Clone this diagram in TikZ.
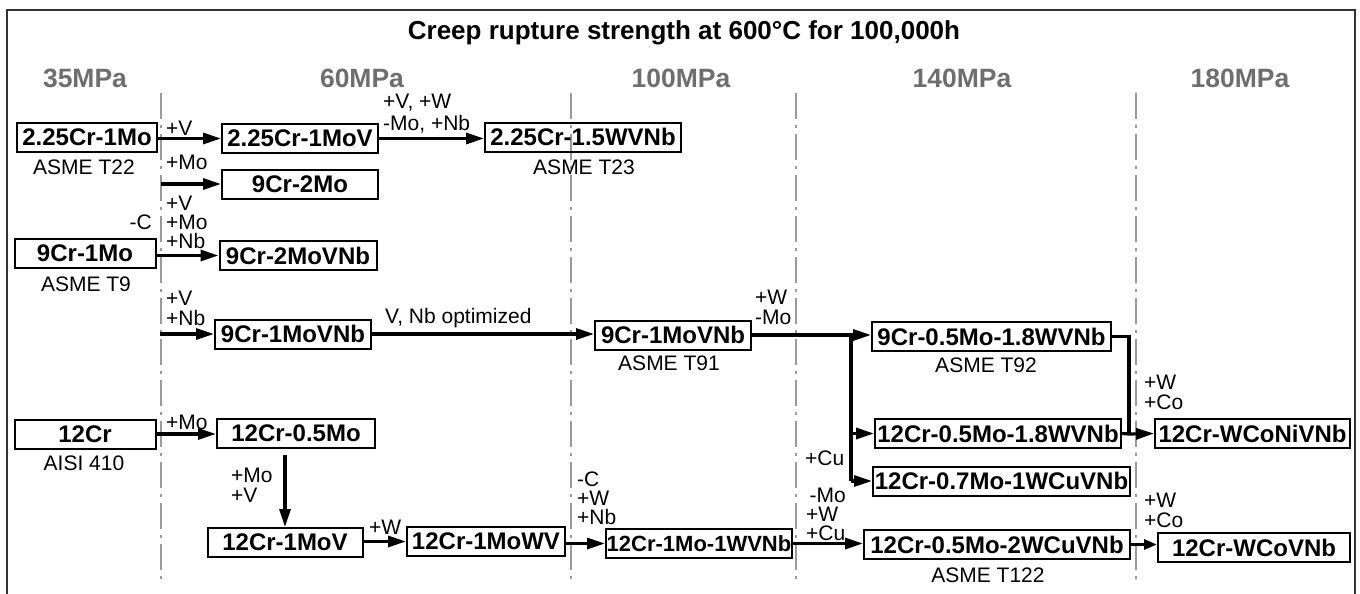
\documentclass[tikz,border=0pt]{standalone}
\usepackage{fontspec}
\setmainfont{Liberation Sans}
\usetikzlibrary{arrows.meta,calc}
\definecolor{hdrgray}{HTML}{6E6E6E}
\definecolor{gridgray}{HTML}{9A9A9A}
\definecolor{framegray}{HTML}{333333}
\begin{document}
\begin{tikzpicture}[x=1pt,y=-1pt,
  box/.style={draw=black, line width=2pt, inner sep=0pt, minimum height=29pt, font=\bfseries\fontsize{24}{24}\selectfont},
  lbl/.style={inner sep=0pt, anchor=west, align=left, font=\fontsize{21}{19}\selectfont},
  std/.style={inner sep=0pt, font=\fontsize{21}{21}\selectfont},
  hdr/.style={inner sep=0pt, text=hdrgray, font=\bfseries\fontsize{26.5}{26.5}\selectfont},
  arr/.style={line width=3.2pt, -{Triangle[length=18pt,width=11pt]}},
  conn/.style={line width=3.2pt},
  gridline/.style={draw=gridgray, line width=1.5pt, dash pattern=on 26pt off 6pt on 3pt off 6pt}]
\useasboundingbox (0,0) rectangle (1360,594);
% frame
\draw[framegray, line width=1.6pt] (7,600) -- (7,10) -- (1355,10) -- (1355,600);
% title and headers
\node[inner sep=0pt, font=\bfseries\fontsize{26}{26}\selectfont] (title) at (684,33) {Creep rupture strength at 600°C for 100,000h};
\node[hdr] (h35) at (85,78) {35MPa};
\node[hdr] (h60) at (362,78) {60MPa};
\node[hdr] (h100) at (681,78) {100MPa};
\node[hdr] (h140) at (962,78) {140MPa};
\node[hdr] (h180) at (1240,78) {180MPa};
% grid lines
\coordinate (g1t) at (161,93); \coordinate (g1b) at (161,584);
\coordinate (g2t) at (571,93); \coordinate (g2b) at (571,584);
\coordinate (g3t) at (796,93); \coordinate (g3b) at (796,584);
\coordinate (g4t) at (1136,93); \coordinate (g4b) at (1136,584);
\draw[gridline] (g1t) -- (g1b);
\draw[gridline] (g2t) -- (g2b);
\draw[gridline] (g3t) -- (g3b);
\draw[gridline] (g4t) -- (g4b);
% boxes
\node[box, minimum width=140pt] (a1) at (87,137) {2.25Cr-1Mo};
\node[std] (t22) at (84,167) {ASME T22};
\node[box, minimum width=156pt] (a2) at (300,138.5) {2.25Cr-1MoV};
\node[box, minimum width=156pt] (a3) at (300,184) {9Cr-2Mo};
\node[box, minimum width=141pt] (b1) at (85,253) {9Cr-1Mo};
\node[std] (t9) at (86,284) {ASME T9};
\node[box, minimum width=157pt] (b2) at (298,255.5) {9Cr-2MoVNb};
\node[box, minimum width=156pt] (b3) at (293,334) {9Cr-1MoVNb};
\node[box, minimum width=141pt] (c1) at (85,434) {12Cr};
\node[std] (t410) at (84,463) {AISI 410};
\node[box, minimum width=158pt] (c2) at (296,433) {12Cr-0.5Mo};
\node[box, minimum width=155pt] (c3) at (285,542.5) {12Cr-1MoV};
\node[box, minimum width=158pt] (c4) at (486,541.5) {12Cr-1MoWV};
\node[box, minimum width=196pt] (a4) at (583,137) {2.25Cr-1.5WVNb};
\node[std] (t23) at (584,167) {ASME T23};
\node[box, minimum width=156pt] (t91) at (673,335) {9Cr-1MoVNb};
\node[std] (t91l) at (669,363) {ASME T91};
\node[box, minimum width=186pt, font=\bfseries\fontsize{22}{24}\selectfont] (c5) at (699,543.5) {12Cr-1Mo-1WVNb};
\node[box, minimum width=239pt] (t92) at (991.5,336.5) {9Cr-0.5Mo-1.8WVNb};
\node[std] (t92l) at (986,365) {ASME T92};
\node[box, minimum width=246pt] (d2) at (998,433.5) {12Cr-0.5Mo-1.8WVNb};
\node[box, minimum width=257pt] (d3) at (1001.5,481) {12Cr-0.7Mo-1WCuVNb};
\node[box, minimum width=266pt] (t122) at (997,544.5) {12Cr-0.5Mo-2WCuVNb};
\node[std] (t122l) at (988,575) {ASME T122};
\node[box, minimum width=195pt] (e1) at (1252.5,433.5) {12Cr-WCoNiVNb};
\node[box, minimum width=192pt] (e2) at (1254,547.5) {12Cr-WCoVNb};
% labels
\node[lbl] (l1) at (166,128) {+V};
\node[lbl] (l2) at (166,162) {+Mo};
\node[lbl, font=\fontsize{21}{19}\selectfont] (l3) at (166,222) {+V\\+Mo\\+Nb};
\node[lbl, anchor=east] (l3c) at (152,222) {-C};
\node[lbl, font=\fontsize{21}{20}\selectfont] (l4) at (166,308) {+V\\+Nb};
\node[lbl] (l5) at (166,422) {+Mo};
\node[lbl, font=\fontsize{21}{22}\selectfont] (l6) at (383,114) {+V, +W\\-Mo, +Nb};
\node[lbl] (l7) at (385,318) {V, Nb optimized};
\node[lbl, font=\fontsize{21}{20}\selectfont] (l8) at (231,485) {+Mo\\+V};
\node[lbl] (l9) at (369,527) {+W};
\node[lbl] (l10) at (577,498) {-C\\+W\\+Nb};
\node[lbl, font=\fontsize{21}{20}\selectfont] (l11) at (755,307) {+W\\-Mo};
\node[lbl] (l12) at (805,458) {+Cu};
\node[lbl] (l13) at (806,514) {\,-Mo\\+W\\+Cu};
\node[lbl, font=\fontsize{21}{19.5}\selectfont] (l14) at (1144,392.5) {+W\\+Co};
\node[lbl, font=\fontsize{21}{20}\selectfont] (l15) at (1144,510) {+W\\+Co};
% connectors
\coordinate (s2) at (161,184);
\coordinate (s4) at (160,334);
\coordinate (br) at (851,336);
\coordinate (jn) at (1129,434);
\draw[arr] (a1.east |- a2.west) -- (a2.west);
\draw[arr] (s2) -- (a3.west);
\draw[arr] (b1.east |- b2.west) -- (b2.west);
\draw[arr] (s4) -- (b3.west);
\draw[arr] (b3.east) -- (b3.east -| t91.west);
\draw[arr] (a2.east) -- (a2.east -| a4.west);
\draw[arr] (c1.east) -- (c1.east -| c2.west);
\draw[arr, shorten <=6pt] (c2.south -| c3.north) -- (c3.north);
\draw[arr] (c3.east |- c4.west) -- (c4.west);
\draw[arr] (c4.east |- c5.west) -- (c5.west);
\draw[arr] (t91.east) -- (t91.east -| t92.west);
\draw[conn] (br) -- (br |- d3.west);
\draw[arr] (br |- d2.west) -- (d2.west);
\draw[arr] (br |- d3.west) -- (d3.west);
\draw[arr] (c5.east) -- (c5.east -| t122.west);
\draw[conn] (t92.east) -| (jn);
\draw[arr] (d2.east) -- (jn) -- (e1.west);
\draw[arr, -{Triangle[length=13pt,width=10pt]}] (t122.east) -- (t122.east -| e2.west);
\end{tikzpicture}
\end{document}
